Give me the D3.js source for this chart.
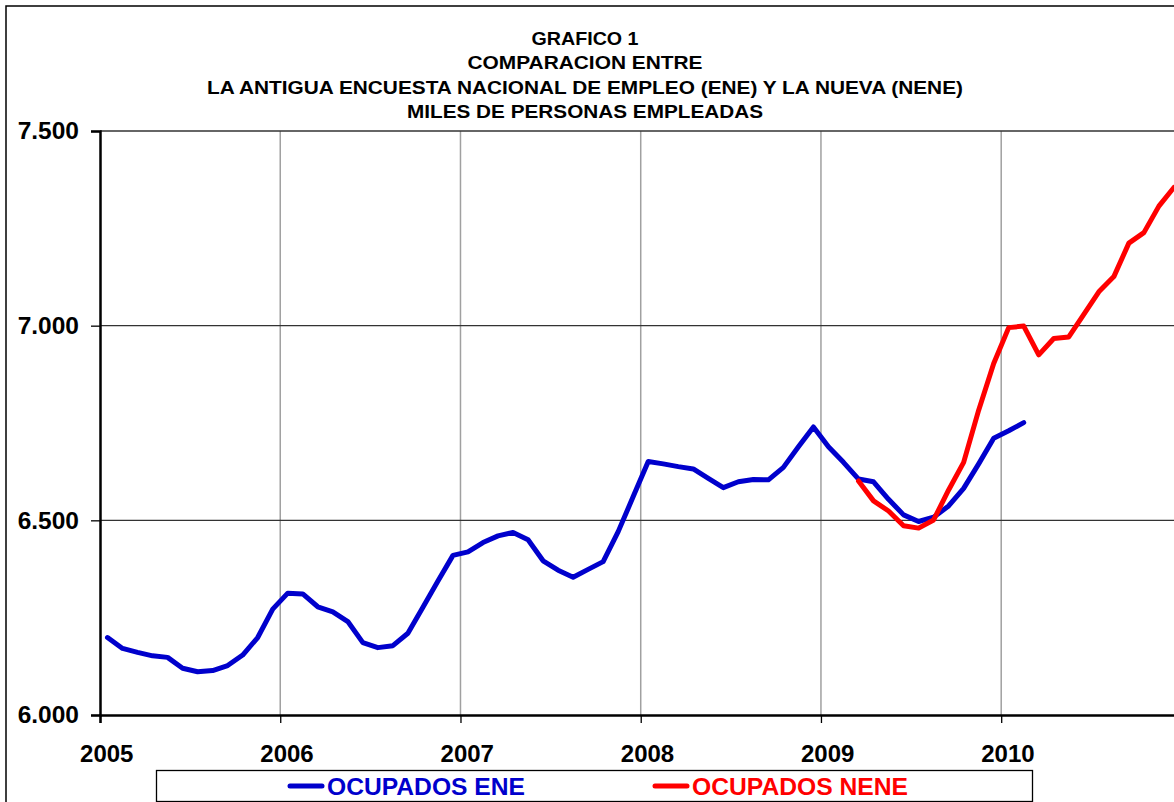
<!DOCTYPE html>
<html>
<head>
<meta charset="utf-8">
<script src="https://cdn.jsdelivr.net/npm/d3@7"></script>
<style>
  html, body { margin: 0; padding: 0; background: #fff; }
  svg { display: block; font-family: 'Liberation Sans', Arial, sans-serif; }
</style>
</head>
<body>
<svg id="chart" width="1174" height="802"></svg>
<script>
const titleLines = [
  'GRAFICO 1',
  'COMPARACION ENTRE',
  'LA ANTIGUA ENCUESTA NACIONAL DE EMPLEO (ENE) Y LA NUEVA (NENE)',
  'MILES DE PERSONAS EMPLEADAS'
]
const titleWidths = [107, 235, 756, 356]

const years = ['2005', '2006', '2007', '2008', '2009', '2010']
const yTicks = [6000, 6500, 7000, 7500]

// monthly values, ENE from Jan 2005, NENE from Mar 2009
const eneStart = 0
const eneValues = [
  6199, 6171, 6161, 6152, 6148, 6120, 6111, 6114, 6127, 6154, 6199, 6272,
  6313, 6311, 6278, 6265, 6240, 6186, 6173, 6178, 6210, 6277, 6344, 6410,
  6419, 6443, 6460, 6469, 6450, 6396, 6372, 6354, 6374, 6394, 6471, 6561,
  6651, 6645, 6638, 6632, 6608, 6584, 6599, 6605, 6604, 6636, 6689, 6740,
  6689, 6649, 6606, 6599, 6554, 6514, 6497, 6508, 6537, 6582, 6645, 6711,
  6730, 6751
]
const neneStart = 50
const neneValues = [
  6601, 6550, 6524, 6486, 6480, 6501, 6578, 6649, 6783, 6903,
  6995, 6999, 6925, 6967, 6971, 7029, 7087, 7126, 7212, 7239, 7307, 7355
]

const legendItems = [
  { name: 'OCUPADOS ENE', color: '#0000cc', width: 198 },
  { name: 'OCUPADOS NENE', color: '#ff0000', width: 216 }
]

const svg = d3.select('#chart')

const plotLeft = 100, plotTop = 131, plotBottom = 715
const monthW = 15.02

const x = d3.scaleLinear().domain([0, 72]).range([plotLeft, plotLeft + 72 * monthW])
const y = d3.scaleLinear().domain([6000, 7500]).range([plotBottom, plotTop])

// outer chart border
svg.append('rect')
  .attr('x', 6).attr('y', 6)
  .attr('width', 1400).attr('height', 1000)
  .attr('fill', 'none').attr('stroke', '#000').attr('stroke-width', 1.5)

// title
svg.append('g').selectAll('text')
  .data(titleLines)
  .join('text')
  .attr('x', 585)
  .attr('y', (d, i) => 45 + i * 24.3)
  .attr('text-anchor', 'middle')
  .attr('font-size', 19)
  .attr('font-weight', 'bold')
  .attr('textLength', (d, i) => titleWidths[i])
  .attr('lengthAdjust', 'spacingAndGlyphs')
  .text((d) => d)

// vertical gridlines
const yearTicks = d3.range(0, 73, 12)
svg.append('g').selectAll('line')
  .data(yearTicks.slice(1))
  .join('line')
  .attr('x1', (d) => x(d)).attr('x2', (d) => x(d))
  .attr('y1', plotTop).attr('y2', plotBottom)
  .attr('stroke', '#a0a0a0').attr('stroke-width', 1.5)

// horizontal gridlines
svg.append('g').selectAll('line')
  .data(yTicks.slice(1))
  .join('line')
  .attr('x1', plotLeft).attr('x2', 1174)
  .attr('y1', (d) => y(d)).attr('y2', (d) => y(d))
  .attr('stroke', '#333').attr('stroke-width', 1.3)

// y axis
const yAxis = d3.axisLeft(y)
  .tickValues(yTicks)
  .tickSize(9)
  .tickPadding(12)
  .tickFormat((d) => d3.format(',')(d).replace(',', '.'))
const gy = svg.append('g')
  .attr('transform', `translate(${plotLeft},0)`)
  .call(yAxis)
gy.select('.domain').attr('stroke', '#000').attr('stroke-width', 2.5)
gy.selectAll('.tick line').attr('stroke', '#000').attr('stroke-width', 1.3)
gy.selectAll('.tick text')
  .attr('font-size', 24.5).attr('font-weight', 'bold')
  .attr('font-family', "'Liberation Sans', Arial, sans-serif")
  .attr('fill', '#000')

// x axis (ticks at year boundaries, labels on first month)
const xAxis = d3.axisBottom(x)
  .tickValues(yearTicks)
  .tickSize(8)
  .tickFormat('')
const gx = svg.append('g')
  .attr('transform', `translate(0,${plotBottom})`)
  .call(xAxis)
gx.select('.domain').attr('stroke', '#000').attr('stroke-width', 2.5)
gx.selectAll('.tick line').attr('stroke', '#000').attr('stroke-width', 1.3)

svg.append('g').selectAll('text')
  .data(years)
  .join('text')
  .attr('x', (d, i) => x(i * 12 + 0.45))
  .attr('y', 762)
  .attr('text-anchor', 'middle')
  .attr('font-size', 24)
  .attr('font-weight', 'bold')
  .text((d) => d)

// lines
const line = d3.line()
  .x((d) => x(d.m + 0.5))
  .y((d) => y(d.v))

const eneData = eneValues.map((v, i) => ({ m: eneStart + i, v }))
const neneData = neneValues.map((v, i) => ({ m: neneStart + i, v }))

svg.append('path')
  .datum(eneData)
  .attr('d', line)
  .attr('fill', 'none')
  .attr('stroke', legendItems[0].color)
  .attr('stroke-width', 5)
  .attr('stroke-linejoin', 'round')
  .attr('stroke-linecap', 'round')

svg.append('path')
  .datum(neneData)
  .attr('d', line)
  .attr('fill', 'none')
  .attr('stroke', legendItems[1].color)
  .attr('stroke-width', 5)
  .attr('stroke-linejoin', 'round')
  .attr('stroke-linecap', 'round')

// legend
const legend = svg.append('g')
legend.append('rect')
  .attr('x', 156.5).attr('y', 770.5)
  .attr('width', 876).attr('height', 31)
  .attr('fill', '#fff').attr('stroke', '#000').attr('stroke-width', 1.3)

const legendX = [288, 653]
const item = legend.selectAll('g.item')
  .data(legendItems)
  .join('g')
  .attr('class', 'item')
  .attr('transform', (d, i) => `translate(${legendX[i]},786)`)
item.append('line')
  .attr('x1', 2).attr('x2', 34)
  .attr('stroke', (d) => d.color)
  .attr('stroke-width', 5)
  .attr('stroke-linecap', 'round')
item.append('text')
  .attr('x', 39).attr('y', 9)
  .attr('font-size', 23).attr('font-weight', 'bold')
  .attr('textLength', (d) => d.width)
  .attr('lengthAdjust', 'spacingAndGlyphs')
  .attr('fill', (d) => d.color)
  .text((d) => d.name)
</script>
</body>
</html>
